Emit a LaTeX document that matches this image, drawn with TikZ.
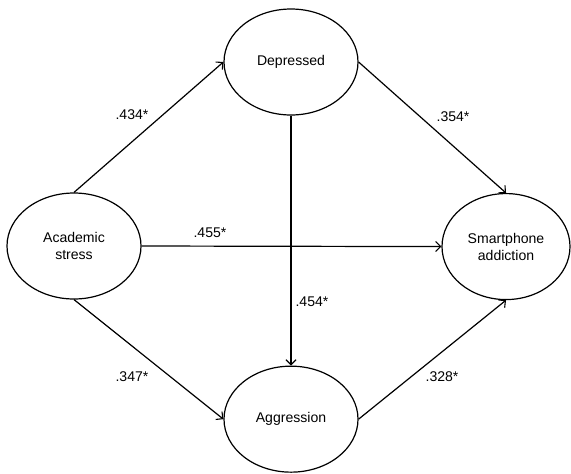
\documentclass[tikz,border=0pt]{standalone}
\usepackage{fontspec}
\setmainfont{Liberation Sans}
\usepackage{tikz}
\usetikzlibrary{arrows.meta,shapes.geometric,calc}

\tikzset{
  latent/.style={ellipse, draw=black, line width=1.2pt, minimum width=4.69cm, minimum height=3.71cm, inner sep=0pt, align=center, font=\fontsize{14}{17}\selectfont},
  path/.style={line width=1.2pt, -{Straight Barb[length=5pt,width=10pt,line width=1.1pt]}},
  coef/.style={font=\fontsize{14}{17}\selectfont}
}

\begin{document}
\begin{tikzpicture}
\useasboundingbox (0cm,0cm) rectangle (19.985cm,-16.555cm);
\node[latent] (acad) at (2.59 cm,-8.61cm) {Academic\\stress};
\node[latent] (dep) at (10.185 cm,-2.17cm) {Depressed};
\node[latent] (agg) at (10.185 cm,-14.67cm) {Aggression};
\node[latent, minimum width=4.48cm] (smart) at (17.71 cm,-8.63cm) {Smartphone\\addiction};
\draw[path] (acad.north) -- (dep.west);
\draw[path] (acad.south) -- (agg.west);
\draw[path] (acad.east) -- (smart.west);
\draw[path] (dep.east) -- (smart.north);
\draw[path] (agg.east) -- (smart.south);
\draw[path] (dep.south) -- (agg.north);
\node[coef] (c1) at (4.62 cm,-4.025cm) {.434*};
\node[coef] (c2) at (7.35 cm,-8.155cm) {.455*};
\node[coef] (c3) at (15.855 cm,-4.095cm) {.354*};
\node[coef] (c4) at (15.47 cm,-13.195cm) {.328*};
\node[coef] (c5) at (4.62 cm,-13.195cm) {.347*};
\node[coef] (c6) at (10.92 cm,-10.57cm) {.454*};
\end{tikzpicture}
\end{document}
